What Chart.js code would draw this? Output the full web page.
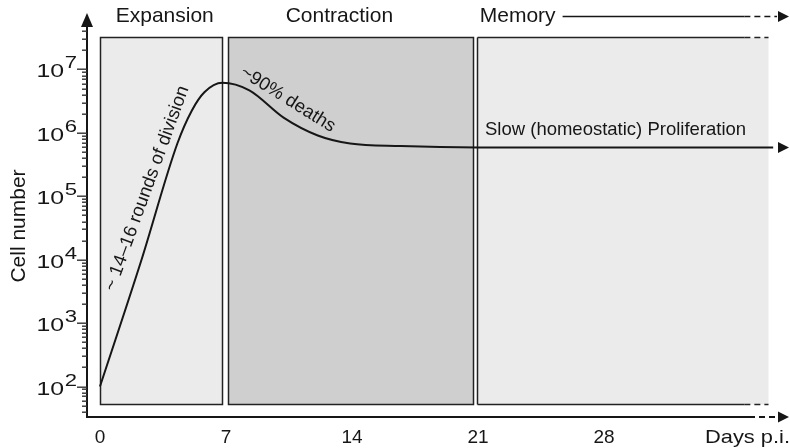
<!DOCTYPE html>
<html>
<head>
<meta charset="utf-8">
<script src="https://cdn.jsdelivr.net/npm/chart.js@4.4.1/dist/chart.umd.min.js"></script>
<style>
  html, body { margin: 0; padding: 0; background: #fff; }
</style>
</head>
<body>
<canvas id="chart" width="790" height="448"></canvas>
<script>
// T-cell response curve (days post infection vs cell number)
const days = [0, 2.3, 4.3, 5.1, 5.8, 6.8, 8.3, 10.2, 12.1, 13.9, 16.7, 21, 37.4];
const cells = [100, 9800, 6.8e5, 2.24e6, 4.37e6, 6.17e6, 4.68e6, 1.74e6, 9.1e5, 6.8e5, 6.2e5, 5.9e5, 5.9e5];

const xTicks = [0, 7, 14, 21, 28];
const decades = [2, 3, 4, 5, 6, 7];
const minorSteps = [2, 3, 4, 5, 6, 7, 8, 9];

const phaseNames = ["Expansion", "Contraction", "Memory"];
const phaseStart = [0, 7.1, 20.95];
const phaseEnd = [6.8, 20.7, 37.1];

const boxTop = Math.pow(10, 7.505);
const boxBottom = Math.pow(10, 1.73);
const memorySolidEnd = 35.8;

const FONT = "'Liberation Sans', Arial, sans-serif";
const INK = "#161616";
const phaseFill = ["#ebebeb", "#cfcfcf", "#ebebeb"];

const headers = [
  { text: "Expansion", day: 3.6, align: "center" },
  { text: "Contraction", day: 13.3, align: "center" },
  { text: "Memory", day: 21.1, align: "left" },
];
const headerValue = 6.85e7;

const notes = [
  { text: "~ 14\u201316 rounds of division", day: 2.61, value: 1.33e5, angle: -70, align: "center" },
  { text: "~90% deaths", day: 10.44, value: 3.37e6, angle: 32, align: "center" },
  { text: "Slow (homeostatic) Proliferation", day: 21.39, value: 1.11e6, angle: 0, align: "left" },
];

function hline(ctx, x1, x2, y, dashed) {
  ctx.setLineDash(dashed ? [6, 4] : []);
  ctx.beginPath();
  ctx.moveTo(x1, y);
  ctx.lineTo(x2, y);
  ctx.stroke();
  ctx.setLineDash([]);
}

function arrowRight(ctx, tipX, y, len, half) {
  ctx.beginPath();
  ctx.moveTo(tipX, y);
  ctx.lineTo(tipX - len, y - half);
  ctx.lineTo(tipX - len, y + half);
  ctx.closePath();
  ctx.fill();
}

const phasePlugin = {
  id: "phases",
  beforeDatasetsDraw(chart) {
    const { ctx, scales } = chart;
    const { x, y } = scales;
    const top = Math.round(y.getPixelForValue(boxTop)) + 0.5;
    const bottom = Math.round(y.getPixelForValue(boxBottom)) + 0.5;
    ctx.save();
    ctx.strokeStyle = "#222";
    ctx.lineWidth = 1.5;
    phaseNames.forEach((name, i) => {
      const left = Math.round(x.getPixelForValue(phaseStart[i])) + 0.5;
      const right = Math.round(x.getPixelForValue(phaseEnd[i])) + 0.5;
      ctx.fillStyle = phaseFill[i];
      ctx.fillRect(left, top, right - left, bottom - top);
      if (i < phaseNames.length - 1) {
        ctx.strokeRect(left, top, right - left, bottom - top);
      } else {
        const solid = x.getPixelForValue(memorySolidEnd);
        ctx.beginPath();
        ctx.moveTo(left, top);
        ctx.lineTo(left, bottom);
        ctx.stroke();
        hline(ctx, left, solid, top, false);
        hline(ctx, left, solid, bottom, false);
        hline(ctx, solid, right, top, true);
        hline(ctx, solid, right, bottom, true);
      }
    });
    ctx.restore();
  },
  afterDraw(chart) {
    const { ctx, chartArea, scales } = chart;
    const { x, y } = scales;
    ctx.save();
    ctx.strokeStyle = INK;
    ctx.fillStyle = INK;

    // arrow at the end of the curve
    const last = chart.getDatasetMeta(0).data;
    const endY = last[last.length - 1].y;
    arrowRight(ctx, chartArea.right, endY, 11, 5.5);

    // y axis with arrow
    const ax = chartArea.left;
    ctx.lineWidth = 2;
    ctx.beginPath();
    ctx.moveTo(ax, chartArea.bottom + 1);
    ctx.lineTo(ax, chartArea.top + 12);
    ctx.stroke();
    ctx.beginPath();
    ctx.moveTo(ax, chartArea.top);
    ctx.lineTo(ax - 6, chartArea.top + 14);
    ctx.lineTo(ax + 6, chartArea.top + 14);
    ctx.closePath();
    ctx.fill();

    // x axis, solid then dashed, with arrow
    const by = chartArea.bottom;
    hline(ctx, ax, chartArea.right - 40, by, false);
    hline(ctx, chartArea.right - 40, chartArea.right - 10, by, true);
    arrowRight(ctx, chartArea.right, by, 11, 5.5);

    // y ticks: major at decades, minor at 2..9
    const tickValues = [];
    [1].concat(decades).forEach((d) => {
      tickValues.push({ v: Math.pow(10, d), len: 10 });
      minorSteps.forEach((s) => tickValues.push({ v: s * Math.pow(10, d), len: 5 }));
    });
    ctx.fillStyle = "#333";
    tickValues.forEach((t) => {
      const py = Math.round(y.getPixelForValue(t.v));
      if (py < chartArea.top + 16 || py > chartArea.bottom - 2) return;
      ctx.fillRect(ax - t.len, py - 0.5, t.len, 1.4);
    });
    ctx.fillStyle = INK;

    // y tick labels, 10 with raised exponent
    decades.forEach((d) => {
      const py = y.getPixelForValue(Math.pow(10, d));
      ctx.save();
      ctx.translate(77, py + 8);
      ctx.scale(1.38, 1);
      ctx.font = `16px ${FONT}`;
      ctx.textAlign = "right";
      ctx.textBaseline = "alphabetic";
      ctx.fillText(String(d), 0, -9);
      const ew = ctx.measureText(String(d)).width;
      ctx.font = `18px ${FONT}`;
      ctx.fillText("10", -ew - 0.5, 0);
      ctx.restore();
    });

    // y axis title
    ctx.save();
    ctx.translate(25, 226);
    ctx.rotate(-Math.PI / 2);
    ctx.font = `21px ${FONT}`;
    ctx.textAlign = "center";
    ctx.textBaseline = "alphabetic";
    ctx.fillText("Cell number", 0, 0);
    ctx.restore();

    // x axis title at the end of the tick row
    ctx.save();
    ctx.translate(chartArea.right + 1, by + 26);
    ctx.scale(1.15, 1);
    ctx.font = `19px ${FONT}`;
    ctx.textAlign = "right";
    ctx.textBaseline = "alphabetic";
    ctx.fillText("Days p.i.", 0, 0);
    ctx.restore();

    // phase headers
    const hy = y.getPixelForValue(headerValue);
    ctx.font = `21px ${FONT}`;
    ctx.textBaseline = "middle";
    headers.forEach((h) => {
      ctx.textAlign = h.align;
      const hx = x.getPixelForValue(h.day);
      ctx.fillText(h.text, hx, hy);
      if (h.text === "Memory") {
        const start = hx + ctx.measureText(h.text).width + 7;
        const solid = x.getPixelForValue(memorySolidEnd);
        ctx.lineWidth = 1.5;
        hline(ctx, start, solid, hy, false);
        hline(ctx, solid, chartArea.right - 12, hy, true);
        arrowRight(ctx, chartArea.right, hy, 11, 5.5);
      }
    });

    // annotations along the curve
    ctx.font = `18.5px ${FONT}`;
    notes.forEach((n) => {
      ctx.save();
      ctx.translate(x.getPixelForValue(n.day), y.getPixelForValue(n.value));
      ctx.rotate((n.angle * Math.PI) / 180);
      ctx.textAlign = n.align;
      ctx.textBaseline = "middle";
      ctx.fillText(n.text, 0, 0);
      ctx.restore();
    });
    ctx.restore();
  },
};

const chart = new Chart(document.getElementById("chart").getContext("2d"), {
  type: "line",
  data: {
    datasets: [
      {
        label: "Cell number",
        data: days.map((d, i) => ({ x: d, y: cells[i] })),
        borderColor: INK,
        borderWidth: 2,
        pointRadius: 0,
        fill: false,
        cubicInterpolationMode: "monotone",
      },
    ],
  },
  options: {
    responsive: false,
    animation: false,
    devicePixelRatio: 1,
    layout: { padding: { top: 13, right: 1, left: 0, bottom: 0 } },
    plugins: { legend: { display: false }, tooltip: { enabled: false } },
    scales: {
      x: {
        type: "linear",
        min: -0.72,
        max: 38.28,
        afterBuildTicks(scale) {
          scale.ticks = xTicks.map((v) => ({ value: v }));
        },
        afterFit(scale) {
          scale.height = 31;
        },
        grid: { display: false, drawTicks: false },
        border: { display: false },
        ticks: {
          autoSkip: false,
          maxRotation: 0,
          padding: 9,
          color: INK,
          font: { family: FONT, size: 19 },
          callback: (v) => String(v),
        },
      },
      y: {
        type: "logarithmic",
        min: Math.pow(10, 1.52),
        max: Math.pow(10, 7.89),
        afterFit(scale) {
          scale.width = 87;
        },
        grid: { display: false, drawTicks: false },
        border: { display: false },
        ticks: { display: false },
      },
    },
  },
  plugins: [phasePlugin],
});
</script>
</body>
</html>
